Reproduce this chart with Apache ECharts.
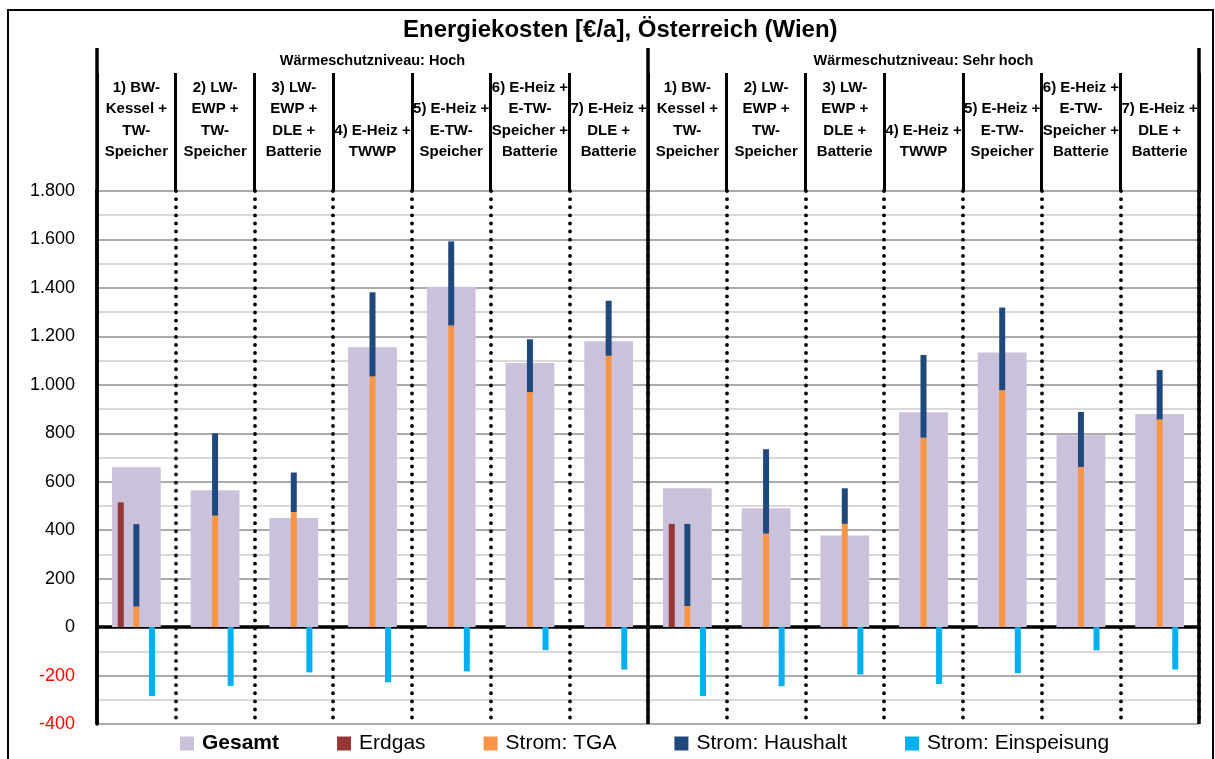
<!DOCTYPE html>
<html>
<head>
<meta charset="utf-8">
<title>Energiekosten [€/a], Österreich (Wien)</title>
<script src="https://cdn.jsdelivr.net/npm/echarts@6/dist/echarts.min.js"></script>
<style>
  html, body { margin: 0; padding: 0; background: #fff; }
  #chart { width: 1215px; height: 759px; }
</style>
</head>
<body>
<div id="chart"></div>
<script>
// Heating / hot-water system variants (shown once per insulation level)
const systems = [
  '1) BW-\nKessel +\nTW-\nSpeicher',
  '2) LW-\nEWP +\nTW-\nSpeicher',
  '3) LW-\nEWP +\nDLE +\nBatterie',
  '4) E-Heiz +\nTWWP',
  '5) E-Heiz +\nE-TW-\nSpeicher',
  '6) E-Heiz +\nE-TW-\nSpeicher +\nBatterie',
  '7) E-Heiz +\nDLE +\nBatterie'
];
const levels = ['Wärmeschutzniveau: Hoch', 'Wärmeschutzniveau: Sehr hoch'];

// Annual energy costs in €/a: first 7 = "Hoch", last 7 = "Sehr hoch"
const gesamt           = [660, 565, 450, 1155, 1405, 1090, 1180,   573, 491, 378, 887, 1133, 792, 880];
const erdgas           = [515, null, null, null, null, null, null, 426, null, null, null, null, null, null];
const stromTGA         = [85, 460, 475, 1035, 1245, 970, 1120,     87, 386, 426, 782, 978, 661, 857];
const stromHaushalt    = [340, 340, 163, 347, 347, 218, 227,       339, 348, 147, 341, 341, 227, 204];
const stromEinspeisung = [-285, -243, -187, -228, -183, -95, -175, -285, -244, -196, -235, -190, -96, -175];

// Value axis range
const yMin = -400, yMax = 1800, yStep = 200;

const categories = systems.concat(systems);
const SANS = "'Liberation Sans', Arial, sans-serif";

function fmt(v) {
  const n = Number(v);
  const s = Math.abs(n).toString().replace(/\B(?=(\d{3})+(?!\d))/g, '.');
  return (n < 0 ? '-' : '') + s;
}

const chart = echarts.init(document.getElementById('chart'), null, { renderer: 'canvas' });

const thinBar = { barWidth: 6, barGap: '160%' };

chart.setOption({
  animation: false,
  backgroundColor: '#ffffff',
  title: {
    text: 'Energiekosten [€/a], Österreich (Wien)',
    left: 403,
    top: 18,
    padding: 0,
    textStyle: { fontFamily: SANS, fontWeight: 'bold', fontSize: 24, color: '#000' }
  },
  graphic: [{
    type: 'rect',
    silent: true,
    shape: { x: 8, y: 10, width: 1205, height: 800 },
    style: { fill: null, stroke: '#000', lineWidth: 2 }
  }],
  legend: {
    left: 180,
    top: 733,
    padding: 0,
    icon: 'rect',
    itemWidth: 14,
    itemHeight: 14,
    itemGap: 58,
    selectedMode: false,
    textStyle: { fontFamily: SANS, fontSize: 21, color: '#000', padding: [0, 0, 0, 3] },
    data: [
      { name: 'Gesamt', textStyle: { fontWeight: 'bold' } },
      'Erdgas', 'Strom: TGA', 'Strom: Haushalt', 'Strom: Einspeisung'
    ]
  },
  grid: { left: 97, right: 16, top: 191, bottom: 35, containLabel: false, outerBoundsMode: 'none' },
  xAxis: [
    {
      // system labels across the top, with header separators and dotted column lines
      type: 'category',
      data: categories,
      position: 'top',
      axisLine: { show: false, onZero: false },
      axisTick: { show: true, interval: 0, length: 118, lineStyle: { color: '#000', width: 3 } },
      axisLabel: {
        interval: 0, margin: 28, fontFamily: SANS, fontWeight: 'bold',
        fontSize: 15, lineHeight: 21.5, color: '#000', align: 'center'
      },
      splitLine: {
        show: true, interval: 0,
        lineStyle: { color: '#000', width: 3.8, type: [0.1, 8], cap: 'round' }
      }
    },
    {
      // base axis for the total bars; its line marks the zero level
      type: 'category',
      data: categories,
      position: 'bottom',
      axisLine: { show: true, onZero: true, lineStyle: { color: '#000', width: 3.5 } },
      axisTick: { show: false },
      axisLabel: { show: false },
      splitLine: { show: false }
    },
    {
      // insulation level headers with full-height separators
      type: 'category',
      data: levels,
      position: 'top',
      axisLine: { show: false, onZero: false },
      axisTick: { show: true, interval: 0, length: 143, lineStyle: { color: '#000', width: 3.5 } },
      axisLabel: {
        interval: 0, margin: 123, fontFamily: SANS, fontWeight: 'bold',
        fontSize: 14.5, color: '#000'
      },
      splitLine: { show: true, interval: 0, lineStyle: { color: '#000', width: 3.5 } }
    }
  ],
  yAxis: {
    type: 'value',
    min: yMin,
    max: yMax,
    interval: yStep,
    axisLine: { show: true, onZero: false, lineStyle: { color: '#000', width: 3.5 } },
    axisTick: { show: false },
    axisLabel: {
      margin: 22,
      fontFamily: SANS,
      fontSize: 18,
      formatter: fmt,
      color: function (v) { return Number(v) < 0 ? '#ff0000' : '#000000'; }
    },
    splitLine: { show: true, lineStyle: { color: '#ababab', width: 2 } },
    minorTick: { show: false, splitNumber: 2 },
    minorSplitLine: { show: true, lineStyle: { color: '#d9d9d9', width: 2 } }
  },
  series: [
    {
      name: 'Gesamt', type: 'bar', xAxisIndex: 1, data: gesamt,
      barWidth: '62%', itemStyle: { color: '#ccc1da' }, z: 1
    },
    Object.assign({ name: 'Erdgas', type: 'bar', xAxisIndex: 0, data: erdgas,
      itemStyle: { color: '#953735' }, z: 3 }, thinBar),
    Object.assign({ name: 'Strom: TGA', type: 'bar', xAxisIndex: 0, data: stromTGA, stack: 'strom',
      itemStyle: { color: '#f79646' }, z: 3 }, thinBar),
    Object.assign({ name: 'Strom: Haushalt', type: 'bar', xAxisIndex: 0, data: stromHaushalt, stack: 'strom',
      itemStyle: { color: '#1f497d' }, z: 3 }, thinBar),
    Object.assign({ name: 'Strom: Einspeisung', type: 'bar', xAxisIndex: 0, data: stromEinspeisung,
      itemStyle: { color: '#00b0f0' }, z: 3 }, thinBar)
  ]
});
</script>
</body>
</html>
